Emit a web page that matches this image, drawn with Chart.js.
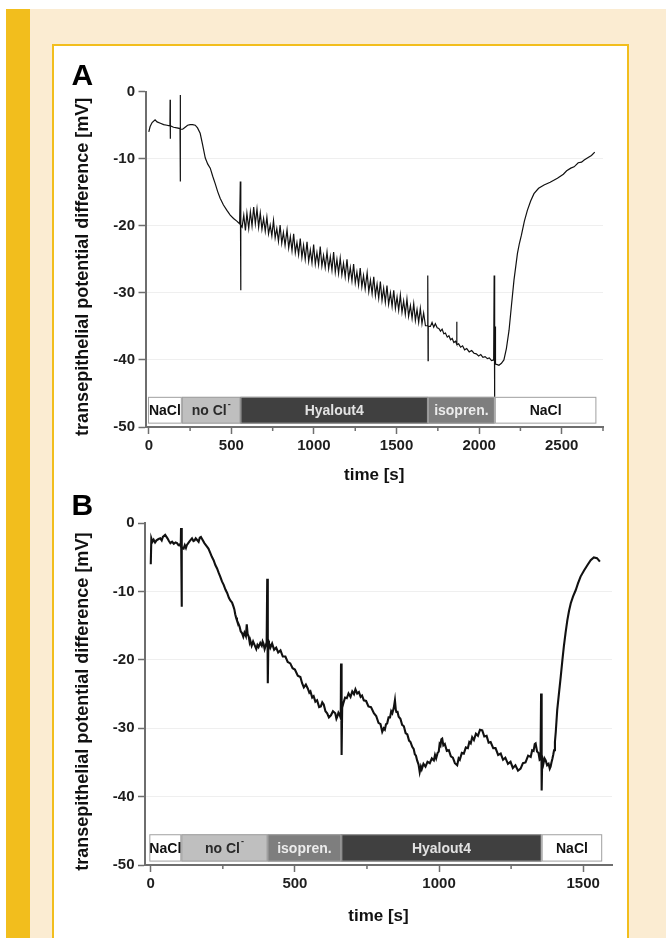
<!DOCTYPE html>
<html>
<head>
<meta charset="utf-8">
<script src="https://cdn.jsdelivr.net/npm/chart.js@4.4.1/dist/chart.umd.min.js"></script>
<style>
  html, body { margin: 0; padding: 0; background: #fff; }
  body { width: 666px; height: 938px; position: relative; overflow: hidden; }
  #cream { position: absolute; left: 30px; top: 9px; right: 0; bottom: 0; background: #fbecd2; }
  #stripe { position: absolute; left: 6px; top: 9px; width: 24px; bottom: 0; background: #f2be1d; }
  #panel { position: absolute; left: 52px; top: 44px; width: 577px; height: 920px; box-sizing: border-box;
           background: #fff; border: 2px solid #f2be1d; }
  canvas { position: absolute; left: 54px; }
  #chartA { top: 50px; }
  #chartB { top: 485px; }
</style>
</head>
<body>
<div id="cream"></div>
<div id="stripe"></div>
<div id="panel"></div>
<canvas id="chartA" width="570" height="445"></canvas>
<canvas id="chartB" width="570" height="453"></canvas>
<script>
const FONT = "'Liberation Sans', Arial, sans-serif";
// trailing spaces nudge the rotated title down a little, as in the original
const yTitle = 'transepithelial potential difference [mV]   ';
const xTitle = 'time [s]';
const yTicks = [0, -10, -20, -30, -40, -50];

// stimulus bar sits between these two voltages
const barTop = -45.5;
const barBottom = -49.5;

// panel A: time [s], potential [mV]
const traceA = [
  [0,-6.0],[8,-5.2],[20,-4.6],[38,-4.2],[50,-4.5],[70,-4.7],[90,-4.9],[110,-5.0],[128,-5.1],[129,-1.2],
  [130,-7.0],[131,-5.1],[150,-5.3],[170,-5.4],[189,-5.5],[190,-0.5],[191,-13.4],[192,-5.6],[205,-5.6],[220,-5.3],
  [235,-5.0],[250,-4.9],[265,-4.9],[281,-5.0],[295,-5.4],[311,-6.2],[325,-7.8],[342,-9.9],[357,-10.8],[372,-11.4],
  [387,-12.6],[402,-13.7],[417,-14.9],[432,-15.9],[452,-16.9],[473,-17.7],[493,-18.4],[513,-18.9],[533,-19.3],[550,-19.7],
  [554,-13.4],[556,-29.6],[558,-19.9],
  [565,-20.2],[575,-18.4],[585,-20.7],[594,-18.1],[605,-20.4],[615,-17.9],[625,-20.0],[635,-17.2],[645,-19.7],[655,-17.5],
  [665,-20.2],[675,-18.1],[685,-20.5],[695,-18.9],[705,-20.8],[715,-18.7],[725,-21.2],[735,-19.9],[745,-21.5],[755,-19.2],
  [765,-21.8],[775,-20.4],[785,-22.3],[795,-19.9],[805,-22.6],[815,-21.0],[825,-22.9],[837,-20.6],[847,-23.3],[857,-21.6],
  [867,-23.7],[877,-21.2],[887,-24.0],[897,-22.5],[907,-24.3],[917,-21.9],[927,-24.7],[937,-22.9],[947,-25.0],[958,-22.4],
  [968,-25.3],[978,-23.6],[988,-25.5],[998,-22.8],[1008,-25.7],[1018,-24.0],[1028,-25.8],[1038,-23.1],[1048,-26.0],[1058,-24.4],
  [1068,-26.2],[1079,-23.9],[1089,-26.4],[1099,-24.6],[1109,-26.6],[1119,-23.9],[1129,-26.9],[1139,-25.0],[1149,-27.1],[1159,-24.8],
  [1169,-27.3],[1179,-25.6],[1189,-27.6],[1200,-25.0],[1210,-27.9],[1220,-26.2],[1230,-28.2],[1240,-25.7],[1250,-28.5],[1260,-26.9],
  [1270,-28.8],[1280,-26.3],[1290,-29.1],[1300,-27.4],[1310,-29.4],[1322,-27.0],[1332,-29.8],[1342,-28.1],[1352,-30.1],[1362,-27.6],
  [1372,-30.4],[1382,-28.7],[1392,-30.8],[1402,-28.3],[1412,-31.1],[1422,-29.3],[1432,-31.4],[1442,-28.9],[1452,-31.7],[1463,-30.0],
  [1473,-32.0],[1483,-29.6],[1493,-32.3],[1503,-30.6],[1513,-32.6],[1523,-30.3],[1533,-32.9],[1543,-31.2],[1553,-33.2],[1563,-30.9],
  [1573,-33.5],[1584,-31.9],[1594,-33.8],[1604,-31.6],[1614,-34.1],[1624,-32.5],[1634,-34.4],[1644,-32.3],[1654,-34.6],[1664,-33.0],
  [1675,-34.9],[1688,-34.9],[1689,-27.4],[1691,-40.1],[1692,-35.0],
  [1705,-35.0],[1715,-34.4],[1725,-35.1],[1735,-34.6],[1746,-35.2],[1756,-35.3],[1766,-35.7],[1776,-35.4],[1786,-36.1],[1796,-36.0],
  [1807,-36.6],[1817,-36.4],[1827,-37.0],[1837,-36.8],[1847,-37.4],[1857,-37.2],[1863,-37.6],[1864,-34.3],[1866,-37.7],[1876,-37.6],
  [1888,-38.1],[1900,-37.9],[1912,-38.5],[1925,-38.3],[1940,-38.8],[1955,-38.6],[1969,-39.0],[1983,-39.1],[1997,-39.4],[2010,-39.2],
  [2023,-39.6],[2036,-39.5],[2050,-39.8],[2062,-39.7],[2075,-40.1],[2088,-40.0],[2091,-27.4],[2093,-45.5],[2095,-40.2],[2097,-35.0],
  [2099,-40.6],[2110,-40.7],[2120,-40.8],[2135,-40.5],[2150,-40.0],[2165,-38.3],[2181,-35.6],[2196,-31.8],[2211,-28.1],[2222,-26.0],
  [2232,-24.1],[2244,-22.6],[2256,-21.4],[2274,-19.3],[2292,-17.7],[2312,-16.3],[2332,-15.2],[2360,-14.4],[2393,-13.9],[2430,-13.5],
  [2474,-12.9],[2510,-12.3],[2530,-11.8],[2555,-11.4],[2575,-11.2],[2600,-10.6],[2620,-10.5],[2636,-10.2],[2660,-9.8],[2680,-9.5],
  [2700,-9.0]
];
const xTicksA = [0, 500, 1000, 1500, 2000, 2500];
const xMinorA = [250, 750, 1250, 1750, 2250, 2750];
const segStartA = [-5, 200, 555, 1690, 2095];
const segEndA = [200, 555, 1690, 2095, 2710];
const segLabelA = ['NaCl', 'no Cl⁻', 'Hyalout4', 'isopren.', 'NaCl'];

// panel B
const traceB = [
  [0,-6.0],[2,-2.2],[6,-2.7],[10,-2.4],[15,-2.8],[20,-2.5],[27,-2.3],[33,-2.2],[38,-2.5],[42,-2.0],
  [50,-1.7],[58,-2.2],[63,-2.6],[68,-2.9],[74,-2.7],[80,-3.0],[86,-2.8],[91,-2.9],[96,-3.2],[100,-3.1],
  [104,-3.4],[105,-0.7],[107,-12.2],[108,-3.5],[114,-3.7],[118,-3.2],[122,-3.6],[125,-3.2],[130,-2.9],[135,-2.6],
  [143,-2.2],[148,-2.6],[152,-2.5],[156,-2.2],[160,-2.4],[166,-2.7],[170,-2.1],[174,-2.0],[178,-2.3],[186,-2.9],
  [195,-3.4],[200,-3.7],[206,-4.3],[212,-4.9],[218,-5.4],[224,-6.1],[230,-6.6],[236,-7.3],[241,-7.8],[247,-8.5],
  [253,-9.0],[259,-9.7],[265,-10.2],[271,-10.9],[276,-11.3],[282,-11.6],[287,-12.2],[290,-12.6],[293,-13.3],[296,-13.8],
  [299,-14.2],[304,-14.7],[308,-15.1],[312,-15.8],[317,-16.1],[321,-16.6],[325,-16.0],[330,-16.5],[333,-14.8],[336,-16.2],
  [340,-16.6],[343,-17.4],[345,-17.1],[350,-17.9],[355,-17.3],[360,-17.8],[366,-18.4],[370,-17.8],[374,-18.1],[380,-17.5],
  [385,-17.9],[388,-17.3],[391,-17.6],[395,-18.4],[398,-18.0],[402,-17.4],[404,-8.1],[406,-23.4],[408,-17.2],[410,-17.5],
  [415,-18.2],[421,-17.6],[428,-18.5],[435,-18.2],[442,-18.9],[450,-18.6],[458,-19.5],[467,-19.5],[475,-20.3],[484,-20.5],
  [492,-21.2],[500,-21.4],[510,-22.3],[519,-22.5],[525,-23.4],[531,-24.0],[538,-23.6],[545,-24.2],[550,-24.8],[554,-24.6],
  [560,-25.5],[565,-25.3],[571,-26.1],[577,-25.9],[584,-26.9],[590,-26.8],[595,-26.2],[600,-26.5],[606,-27.5],[612,-27.8],
  [618,-28.4],[625,-28.1],[632,-27.5],[640,-27.8],[644,-28.6],[647,-28.3],[651,-27.7],[655,-28.0],[659,-28.5],[660,-20.5],
  [662,-33.9],[664,-27.0],[669,-26.2],[674,-25.5],[680,-25.6],[686,-24.9],[693,-25.4],[699,-24.6],[705,-25.0],[710,-24.3],
  [716,-24.9],[722,-24.7],[728,-25.4],[733,-25.2],[739,-25.9],[747,-26.0],[755,-26.8],[764,-26.9],[774,-27.8],[782,-28.2],
  [790,-29.2],[797,-29.4],[803,-30.5],[808,-30.0],[812,-30.2],[816,-29.4],[820,-29.3],[825,-28.4],[830,-28.4],[834,-27.5],
  [838,-27.8],[843,-27.0],[847,-25.9],[850,-27.3],[852,-27.6],[856,-27.6],[860,-28.3],[866,-28.6],[872,-29.5],[878,-29.7],
  [884,-30.7],[890,-30.9],[896,-31.8],[901,-32.0],[907,-32.7],[912,-33.0],[916,-33.8],[920,-34.0],[924,-34.7],[929,-35.3],
  [933,-36.4],[937,-35.6],[940,-36.0],[946,-35.2],[953,-35.6],[960,-34.9],[968,-35.1],[975,-34.4],[982,-34.7],[986,-33.9],
  [990,-34.4],[995,-33.6],[999,-33.4],[1002,-32.3],[1005,-32.5],[1008,-31.6],[1011,-31.5],[1015,-32.5],[1020,-32.3],[1027,-33.3],
  [1034,-33.2],[1041,-34.1],[1048,-34.3],[1055,-35.1],[1063,-35.4],[1068,-34.4],[1072,-34.6],[1079,-33.6],[1086,-33.7],[1093,-32.8],
  [1100,-32.9],[1105,-32.0],[1110,-32.2],[1115,-31.3],[1121,-31.7],[1128,-30.8],[1135,-31.1],[1142,-30.2],[1150,-30.3],[1157,-31.2],
  [1165,-31.1],[1172,-32.1],[1179,-32.0],[1188,-32.9],[1196,-32.9],[1205,-33.9],[1214,-33.7],[1222,-34.6],[1230,-34.3],[1239,-35.2],
  [1248,-34.9],[1256,-35.8],[1265,-35.4],[1274,-36.2],[1283,-35.9],[1291,-35.1],[1300,-35.0],[1309,-34.0],[1318,-34.2],[1323,-33.2],
  [1328,-33.3],[1332,-32.3],[1335,-32.2],[1340,-33.4],[1345,-33.6],[1349,-34.6],[1352,-34.5],[1354,-24.9],[1356,-39.1],[1358,-34.3],
  [1362,-35.2],[1366,-34.4],[1370,-34.7],[1375,-35.4],[1380,-35.2],[1384,-35.9],[1387,-35.6],[1390,-35.0],[1393,-34.5],[1396,-33.9],
  [1399,-33.2],[1402,-32.0],[1405,-30.5],[1410,-27.3],[1416,-24.9],[1422,-22.5],[1428,-20.0],[1433,-18.0],[1439,-16.0],[1445,-14.2],
  [1451,-12.8],[1457,-11.7],[1465,-10.7],[1474,-9.8],[1482,-8.8],[1491,-7.8],[1503,-6.9],[1515,-6.1],[1526,-5.4],[1537,-5.0],
  [1548,-5.1],[1558,-5.6]
];
const xTicksB = [0, 500, 1000, 1500];
const xMinorB = [250, 750, 1250];
const segStartB = [-5, 106, 405, 661, 1356];
const segEndB = [106, 405, 661, 1356, 1566];
const segLabelB = ['NaCl', 'no Cl⁻', 'isopren.', 'Hyalout4', 'NaCl'];

// fill / text colour for each kind of solution
const segStyle = {
  'NaCl': ['#ffffff', '#111111'],
  'no Cl⁻': ['#bfbfbf', '#2a2a2a'],
  'Hyalout4': ['#404040', '#e2e2e2'],
  'isopren.': ['#7e7e7e', '#ececec']
};

function panelPlugin(cfg) {
  return {
    id: 'panel' + cfg.letter,
    beforeDatasetsDraw(chart) {
      const { ctx, scales: { x, y } } = chart;
      const top = y.getPixelForValue(barTop);
      const bot = y.getPixelForValue(barBottom);
      ctx.save();
      cfg.starts.forEach((s, i) => {
        const x0 = x.getPixelForValue(s);
        const x1 = x.getPixelForValue(cfg.ends[i]);
        const [fill, txt] = segStyle[cfg.labels[i]];
        ctx.fillStyle = fill;
        ctx.fillRect(x0, top, x1 - x0, bot - top);
        ctx.strokeStyle = '#a0a0a0';
        ctx.lineWidth = 1;
        ctx.strokeRect(x0 + 0.5, top + 0.5, x1 - x0 - 1, bot - top - 1);
        ctx.fillStyle = txt;
        ctx.font = 'bold 14px ' + FONT;
        ctx.textBaseline = 'middle';
        const cx = (x0 + x1) / 2, cy = (top + bot) / 2 + 1;
        const parts = cfg.labels[i].split('⁻');
        if (parts.length > 1) {
          const w = ctx.measureText(parts[0]).width;
          ctx.textAlign = 'left';
          ctx.fillText(parts[0], cx - w / 2 - 2, cy);
          ctx.font = 'bold 9px ' + FONT;
          ctx.fillText('-', cx + w / 2 - 1, cy - 7);
        } else {
          ctx.textAlign = 'center';
          ctx.fillText(cfg.labels[i], cx, cy);
        }
      });
      ctx.restore();
    },
    afterDraw(chart) {
      const { ctx, scales: { x } } = chart;
      ctx.save();
      // minor ticks
      ctx.strokeStyle = '#6e6e6e';
      ctx.lineWidth = 1.5;
      cfg.minor.forEach(v => {
        const px = x.getPixelForValue(v);
        ctx.beginPath();
        ctx.moveTo(px, x.top);
        ctx.lineTo(px, x.top + 4);
        ctx.stroke();
      });
      ctx.fillStyle = '#000';
      ctx.font = 'bold 30px ' + FONT;
      ctx.textAlign = 'left';
      ctx.textBaseline = 'alphabetic';
      ctx.fillText(cfg.letter, 17.5, cfg.letterY);
      ctx.restore();
    }
  };
}

function makeChart(id, trace, xMin, xMax, xTicks, box, cfg) {
  return new Chart(document.getElementById(id), {
    type: 'line',
    data: {
      datasets: [{
        data: trace.map(([t, v]) => ({ x: t, y: v })),
        borderColor: '#111',
        borderWidth: box.lw,
        pointRadius: 0,
        tension: 0
      }]
    },
    options: {
      responsive: false,
      animation: false,
      devicePixelRatio: 1,
      layout: { padding: { left: 0, top: box.top, right: box.right, bottom: 0 } },
      plugins: { legend: { display: false }, tooltip: { enabled: false } },
      scales: {
        x: {
          type: 'linear',
          min: xMin,
          max: xMax,
          afterFit(s) { s.height = box.xh; },
          afterBuildTicks(s) { s.ticks = xTicks.map(v => ({ value: v })); },
          border: { display: true, color: '#6e6e6e', width: 2 },
          grid: { drawOnChartArea: false, tickLength: 7, tickColor: '#6e6e6e', tickWidth: 1.5 },
          ticks: {
            autoSkip: false, maxRotation: 0, padding: 3,
            color: '#1e1e1e', font: { family: FONT, size: 15, weight: 'bold' },
            callback: v => String(v)
          },
          title: {
            display: true, text: xTitle, color: '#111',
            font: { family: FONT, size: 17, weight: 'bold' },
            padding: { top: 0, bottom: box.xtp }
          }
        },
        y: {
          min: -50,
          max: 0,
          afterFit(s) { s.width = box.yw; },
          afterBuildTicks(s) { s.ticks = yTicks.map(v => ({ value: v })); },
          border: { display: true, color: '#6e6e6e', width: 2 },
          grid: {
            color: c => (c.tick && (c.tick.value === 0 || c.tick.value === -50)) ? 'rgba(0,0,0,0)' : '#efefef',
            tickColor: '#6e6e6e', tickLength: 7, tickWidth: 1.5
          },
          ticks: {
            padding: 3.5,
            color: '#1e1e1e', font: { family: FONT, size: 15, weight: 'bold' },
            callback: v => String(v)
          },
          title: {
            display: true, text: yTitle, color: '#111',
            font: { family: FONT, size: 18, weight: 'bold' },
            padding: { top: 18.2, bottom: 0 }
          }
        }
      }
    },
    plugins: [panelPlugin(cfg)]
  });
}

makeChart('chartA', traceA, -20, 2750, xTicksA,
  { top: 41.7, right: 21, xh: 68, yw: 91.5, xtp: 9.8, lw: 1.2 },
  { letter: 'A', letterY: 35, starts: segStartA, ends: segEndA, labels: segLabelA, minor: xMinorA });

makeChart('chartB', traceB, -20, 1600, xTicksB,
  { top: 38.3, right: 12, xh: 73, yw: 91, xtp: 11.1, lw: 2.1 },
  { letter: 'B', letterY: 30, starts: segStartB, ends: segEndB, labels: segLabelB, minor: xMinorB });
</script>
</body>
</html>
